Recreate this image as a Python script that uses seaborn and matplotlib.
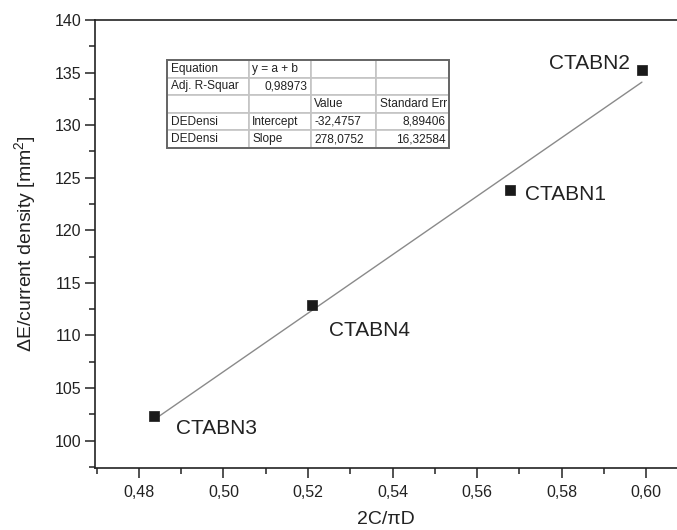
import numpy as np
import pandas as pd
import matplotlib
matplotlib.use("Agg")
import matplotlib.pyplot as plt
from matplotlib.ticker import MultipleLocator, FuncFormatter
from matplotlib.patches import Rectangle
import seaborn as sns

# data
x_vals = [0.4836, 0.5209, 0.5678, 0.5990]
y_vals = [102.3, 112.9, 123.8, 135.2]
names = ["CTABN3", "CTABN4", "CTABN1", "CTABN2"]

# linear fit reported in the table
intercept = -32.4757
slope = 278.0752

table_rows = [
    ["Equation", "y = a + b", "", ""],
    ["Adj. R-Squar", "0,98973", "", ""],
    ["", "", "Value", "Standard Err"],
    ["DEDensi", "Intercept", "-32,4757", "8,89406"],
    ["DEDensi", "Slope", "278,0752", "16,32584"],
]

sns.set_style("white")
plt.rcParams["font.family"] = ["Liberation Sans", "DejaVu Sans"]
plt.rcParams["mathtext.fontset"] = "custom"
plt.rcParams["mathtext.rm"] = "Liberation Sans"
plt.rcParams["mathtext.it"] = "Liberation Sans:italic"

dark = "#222222"

fig = plt.figure(figsize=(6.77, 5.30), dpi=100)
ax = fig.add_axes([95 / 677, 62 / 530, 582 / 677, 448 / 530])

df = pd.DataFrame({"x": x_vals, "y": y_vals, "name": names})

# fitted line over the data range
fit_x = np.array([min(x_vals), max(x_vals)])
fit_df = pd.DataFrame({"x": fit_x, "y": intercept + slope * fit_x})
sns.lineplot(data=fit_df, x="x", y="y", ax=ax, color="#8a8a8a", lw=1.0, zorder=2)

sns.scatterplot(data=df, x="x", y="y", ax=ax, marker="s", s=55,
                color="#1a1a1a", edgecolor="#1a1a1a", linewidth=0.5, zorder=3)

# point labels
offsets = {
    "CTABN3": (15.8, -8.6, "left"),
    "CTABN4": (12.2, -18.7, "left"),
    "CTABN1": (10.8, -2.9, "left"),
    "CTABN2": (-8.6, 4.7, "right"),
}
for xv, yv, nm in zip(x_vals, y_vals, names):
    dx, dy, ha = offsets[nm]
    ax.annotate(nm, (xv, yv), xytext=(dx, dy), textcoords="offset points",
                ha=ha, va="center", fontsize=15, color=dark)

ax.set_xlim(0.4696, 0.6073)
ax.set_ylim(97.4, 140)

ax.xaxis.set_major_locator(MultipleLocator(0.02))
ax.xaxis.set_minor_locator(MultipleLocator(0.01))
ax.yaxis.set_major_locator(MultipleLocator(5))
ax.yaxis.set_minor_locator(MultipleLocator(2.5))
ax.xaxis.set_major_formatter(FuncFormatter(lambda v, p: f"{v:.2f}".replace(".", ",")))
ax.yaxis.set_major_formatter(FuncFormatter(lambda v, p: f"{v:.0f}"))

ax.tick_params(axis="both", which="major", direction="out", length=7, width=1.1,
               color=dark, labelsize=11.5, labelcolor=dark)
ax.tick_params(axis="both", which="minor", direction="out", length=4, width=1.1, color=dark)
ax.tick_params(axis="x", which="major", pad=5)
ax.tick_params(axis="y", which="major", pad=3)
ax.tick_params(bottom=True, left=True, top=False, right=False)
ax.tick_params(which="minor", bottom=True, left=True, top=False, right=False)

for side in ["left", "bottom", "top"]:
    ax.spines[side].set_color(dark)
    ax.spines[side].set_linewidth(1.2)
ax.spines["right"].set_visible(False)

ax.set_xlabel("2C/πD", fontsize=14, color=dark, labelpad=8)
ax.set_ylabel("ΔE/current density [mm$^2$]", fontsize=14, color=dark, labelpad=12)

# fit results table
tb_box = [(167 - 95) / 582, (468 - 148) / 448, 282 / 582, 88 / 448]
tbl = ax.table(cellText=table_rows, cellLoc="left",
               colWidths=[82, 62, 65, 73], bbox=tb_box)
tbl.auto_set_font_size(False)
tbl.set_fontsize(8.6)
for (r, c), cell in tbl.get_celld().items():
    cell.set_edgecolor("#c4c4c4")
    cell.set_linewidth(1.2)
    cell.get_text().set_color(dark)
    cell.PAD = 0.05
    if (r, c) in [(1, 1), (3, 3), (4, 3)]:
        cell.get_text().set_horizontalalignment("right")
        cell._loc = "right"
ax.add_patch(Rectangle((tb_box[0], tb_box[1]), tb_box[2], tb_box[3],
                       transform=ax.transAxes, fill=False, edgecolor="#666666",
                       lw=1.4, zorder=5))

fig.savefig("out.png", dpi=100)
